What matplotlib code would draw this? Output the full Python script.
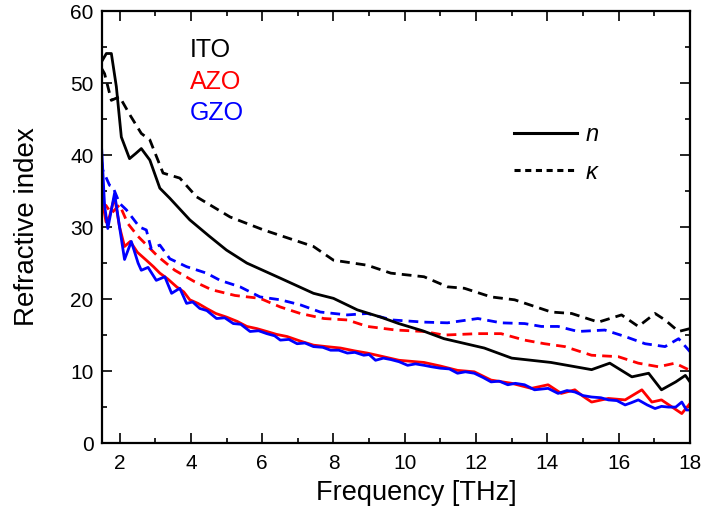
import matplotlib
matplotlib.use("Agg")
import matplotlib.pyplot as plt
from matplotlib.lines import Line2D
from matplotlib.ticker import MultipleLocator

plt.rcParams['font.family'] = ['Liberation Sans', 'DejaVu Sans']

# ITO
ito_n_x = [1.5, 1.63, 1.77, 1.91, 2.05, 2.28, 2.45, 2.61, 2.85, 3.13, 3.41, 3.97, 4.5, 5.0,
           5.57, 6.51, 7.44, 8.0, 8.67, 9.32, 9.83, 10.5, 11.1, 12.23, 13.0, 14.1, 15.24,
           15.75, 16.37, 16.84, 17.2, 17.6, 17.87, 18.0]
ito_n_y = [53.0, 54.1, 54.1, 49.5, 42.5, 39.5, 40.2, 40.9, 39.3, 35.4, 34.0, 31.0, 28.8, 26.8,
           25.0, 22.9, 20.8, 20.1, 18.5, 17.5, 16.6, 15.6, 14.5, 13.2, 11.8, 11.2, 10.2,
           11.1, 9.2, 9.7, 7.4, 8.5, 9.4, 8.5]
ito_k_x = [1.5, 1.58, 1.77, 2.0, 2.3, 2.61, 2.85, 3.22, 3.69, 4.16, 5.1, 6.04, 7.44, 8.0,
           8.95, 9.61, 10.54, 11.2, 11.67, 12.42, 13.08, 14.11, 14.68, 15.43, 16.08, 16.55,
           17.02, 17.3, 17.68, 18.0]
ito_k_y = [52.0, 51.3, 47.6, 48.1, 45.5, 43.0, 42.1, 37.5, 36.8, 34.2, 31.4, 29.6, 27.3, 25.4,
           24.7, 23.6, 23.1, 21.7, 21.5, 20.3, 19.9, 18.2, 18.0, 16.8, 17.8, 16.2,
           18.0, 17.1, 15.5, 15.9]

# AZO
azo_n_x = [1.5, 1.62, 1.72, 1.86, 2.0, 2.14, 2.3, 2.5, 2.75, 2.95, 3.13, 3.35, 3.6, 3.8, 3.97,
           4.2, 4.44, 4.7, 5.0, 5.3, 5.57, 5.85, 6.13, 6.4, 6.7, 7.05, 7.44, 7.8, 8.2, 8.6,
           8.95, 9.4, 9.84, 10.54, 11.0, 11.48, 11.95, 12.42, 13.0, 13.55, 14.02, 14.39,
           14.77, 15.0, 15.24, 15.71, 16.18, 16.65, 16.93, 17.2, 17.5, 17.77, 18.0]
azo_n_y = [34.2, 30.7, 31.5, 34.2, 30.0, 27.3, 28.0, 26.5, 25.4, 24.5, 23.6, 22.8, 21.7, 21.0,
           19.9, 19.4, 18.7, 18.0, 17.5, 16.9, 16.2, 15.9, 15.5, 15.1, 14.8, 14.2, 13.6, 13.4,
           13.2, 12.8, 12.5, 12.0, 11.5, 11.2, 10.7, 10.1, 9.9, 8.75, 8.3, 7.6, 8.1, 6.9,
           7.4, 6.5, 5.7, 6.2, 6.0, 7.4, 5.7, 6.0, 5.0, 4.1, 5.5]
azo_k_x = [1.5, 1.62, 1.77, 2.0, 2.23, 2.52, 2.8, 3.08, 3.55, 4.11, 4.58, 5.24, 5.94, 6.51,
           7.07, 7.73, 8.39, 8.95, 9.75, 10.54, 11.1, 12.05, 12.7, 13.36, 13.92, 14.49, 15.24,
           15.99, 16.55, 17.12, 17.58, 18.0]
azo_k_y = [33.3, 33.0, 31.9, 33.1, 30.5, 28.7, 27.3, 25.9, 24.0, 22.4, 21.3, 20.5, 20.1, 18.9,
           18.0, 17.3, 17.1, 16.2, 15.7, 15.5, 15.0, 15.2, 15.2, 14.3, 13.8, 13.4, 12.2,
           12.0, 11.1, 10.6, 11.1, 10.1]

# GZO
gzo_n_x = [1.5, 1.58, 1.67, 1.86, 2.0, 2.14, 2.33, 2.52, 2.61, 2.8, 3.03, 3.27, 3.46, 3.69,
           3.88, 4.05, 4.25, 4.45, 4.72, 4.95, 5.19, 5.4, 5.66, 5.9, 6.13, 6.35, 6.51, 6.75,
           6.98, 7.2, 7.44, 7.7, 7.92, 8.15, 8.39, 8.6, 8.85, 9.0, 9.18, 9.4, 9.61, 9.84,
           10.08, 10.3, 10.54, 10.75, 11.0, 11.25, 11.48, 11.7, 11.95, 12.2, 12.42, 12.65,
           12.89, 13.1, 13.36, 13.64, 14.02, 14.3, 14.55, 14.77, 15.0, 15.24, 15.5, 15.71,
           15.95, 16.18, 16.35, 16.55, 16.8, 17.02, 17.2, 17.4, 17.6, 17.77, 17.9, 18.0]
gzo_n_y = [40.7, 33.0, 29.8, 34.7, 30.0, 25.5, 28.0, 25.0, 24.0, 24.4, 22.6, 23.1, 20.8, 21.5,
           19.4, 19.6, 18.7, 18.4, 17.3, 17.4, 16.6, 16.5, 15.5, 15.6, 15.2, 14.9, 14.3, 14.4,
           13.8, 13.9, 13.4, 13.3, 12.9, 12.9, 12.5, 12.6, 12.2, 12.3, 11.5, 11.8, 11.6, 11.3,
           10.8, 11.0, 10.8, 10.6, 10.4, 10.3, 9.7, 9.9, 9.7, 9.1, 8.5, 8.6,
           8.1, 8.3, 8.1, 7.4, 7.6, 6.9, 7.3, 7.1, 6.6, 6.4, 6.3, 6.0,
           5.9, 5.3, 5.6, 6.0, 5.3, 4.8, 5.1, 5.0, 5.0, 5.7, 4.6, 4.6]
gzo_k_x = [1.5, 1.53, 1.72, 1.81, 2.0, 2.19, 2.56, 2.75, 2.89, 3.13, 3.41, 3.88, 4.44, 4.82,
           5.38, 5.94, 6.51, 7.07, 7.63, 8.39, 8.95, 9.65, 10.54, 11.2, 12.05, 12.7, 13.36,
           13.83, 14.3, 14.86, 15.61, 16.18, 16.74, 17.3, 17.68, 18.0]
gzo_k_y = [39.0, 37.9, 35.8, 35.6, 33.3, 32.4, 30.0, 29.6, 27.0, 27.5, 25.6, 24.5, 23.6, 22.6,
           21.7, 20.3, 19.9, 19.2, 18.2, 17.8, 18.0, 17.1, 16.8, 16.7, 17.3, 16.7, 16.6,
           16.2, 16.2, 15.5, 15.7, 14.8, 13.8, 13.4, 14.5, 12.7]

fig = plt.figure(figsize=(7.03, 5.25), dpi=100)
ax = fig.add_axes([0.1447, 0.156, 0.8368, 0.823])

lw = 2.0
dsh = (3.5, 2.2)
ax.plot(azo_k_x, azo_k_y, color="red", lw=lw, dashes=dsh)
ax.plot(gzo_k_x, gzo_k_y, color="blue", lw=lw, dashes=dsh)
ax.plot(ito_k_x, ito_k_y, color="black", lw=lw, dashes=dsh)
ax.plot(azo_n_x, azo_n_y, color="red", lw=lw)
ax.plot(gzo_n_x, gzo_n_y, color="blue", lw=lw)
ax.plot(ito_n_x, ito_n_y, color="black", lw=lw)

ax.set_xlim(1.5, 18)
ax.set_ylim(0, 60)
ax.xaxis.set_major_locator(MultipleLocator(2))
ax.xaxis.set_minor_locator(MultipleLocator(1))
ax.yaxis.set_major_locator(MultipleLocator(10))
ax.yaxis.set_minor_locator(MultipleLocator(5))
ax.tick_params(which="both", direction="in", top=True, right=True, width=1.2)
ax.tick_params(which="major", length=7, labelsize=15)
ax.tick_params(which="minor", length=3.5)
ax.tick_params(axis="x", pad=8)
ax.tick_params(axis="y", pad=6)
for s in ax.spines.values():
    s.set_linewidth(1.6)

ax.set_xlabel("Frequency [THz]", fontsize=19.5)
ax.set_ylabel("Refractive index", fontsize=20)
ax.xaxis.set_label_coords(0.534, -0.085)
ax.yaxis.set_label_coords(-0.105, 0.5)

ax.text(0.15, 0.91, "ITO", color="black", fontsize=18, transform=ax.transAxes, va="center")
ax.text(0.15, 0.836, "AZO", color="red", fontsize=18, transform=ax.transAxes, va="center")
ax.text(0.15, 0.764, "GZO", color="blue", fontsize=18, transform=ax.transAxes, va="center")

leg = [Line2D([], [], color="black", lw=2.2, label="n"),
       Line2D([], [], color="black", lw=2.2, dashes=(2.0, 1.5), label="κ")]
ax.legend(handles=leg, loc="upper left", bbox_to_anchor=(0.70, 0.74), frameon=False,
          handlelength=2.7, handletextpad=0.35, labelspacing=0.6,
          borderpad=0, borderaxespad=0, prop={"style": "italic", "size": 17})

fig.savefig("out.png", dpi=100)
